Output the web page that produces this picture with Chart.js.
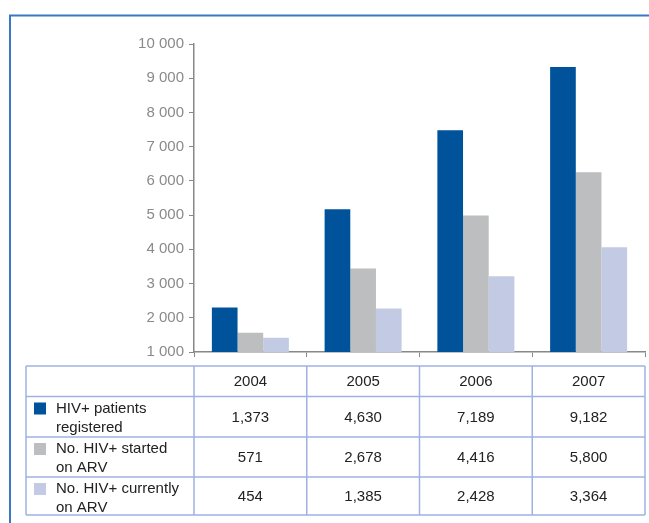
<!DOCTYPE html>
<html>
<head>
<meta charset="utf-8">
<script src="https://cdn.jsdelivr.net/npm/chart.js@4/dist/chart.umd.min.js"></script>
<style>
  html, body { margin: 0; padding: 0; background: #ffffff; }
  #wrap { position: relative; width: 649px; height: 523px; }
</style>
</head>
<body>
<div id="wrap"><canvas id="c" width="649" height="523"></canvas></div>
<script>
// ---- data ----
const years = ['2004', '2005', '2006', '2007'];
// bar heights as drawn in the picture (axis units)
const registeredBars = [2300, 5170, 7480, 9330];
const startedBars = [1565, 3440, 4990, 6250];
const currentBars = [1420, 2270, 3210, 4060];
// values printed in the data table
const registeredTable = ['1,373', '4,630', '7,189', '9,182'];
const startedTable = ['571', '2,678', '4,416', '5,800'];
const currentTable = ['454', '1,385', '2,428', '3,364'];
const seriesNames = [
  ['HIV+ patients', 'registered'],
  ['No. HIV+ started', 'on ARV'],
  ['No. HIV+ currently', 'on ARV']
];
const yMin = 1000, yMax = 10000, yStep = 1000;

const colors = ['#00529b', '#bdbec0', '#c3cae3'];
const FONT = '"Liberation Sans", Arial, sans-serif';

function fmt(v) {
  return String(v).replace(/\B(?=(\d{3})+(?!\d))/g, ' ');
}

const tablePlugin = {
  id: 'tablePlugin',
  afterDraw(chart) {
    const ctx = chart.ctx;
    const xs = chart.scales.x;
    // frame
    ctx.save();
    ctx.strokeStyle = '#3b78c1';
    ctx.lineWidth = 2;
    ctx.beginPath();
    ctx.moveTo(10, 523);
    ctx.lineTo(10, 15.5);
    ctx.lineTo(649, 15.5);
    ctx.stroke();

    // table geometry
    const rows = [366, 396.5, 437, 477, 515];
    const left = 26;
    const right = xs.right;
    const half = (xs.getPixelForValue(1) - xs.getPixelForValue(0)) / 2;
    const cols = [left, xs.left];
    for (let i = 0; i < years.length; i++) cols.push(xs.getPixelForValue(i) + half);
    cols[cols.length - 1] = right;

    ctx.strokeStyle = '#9fb2e2';
    ctx.lineWidth = 1.5;
    ctx.beginPath();
    rows.forEach(y => { ctx.moveTo(left, y); ctx.lineTo(right, y); });
    cols.forEach(x => { ctx.moveTo(x, rows[0]); ctx.lineTo(x, rows[rows.length - 1]); });
    ctx.stroke();

    ctx.fillStyle = '#222222';
    ctx.font = '15px ' + FONT;
    ctx.textAlign = 'center';
    ctx.textBaseline = 'middle';
    years.forEach((yr, i) => {
      ctx.fillText(yr, xs.getPixelForValue(i), (rows[0] + rows[1]) / 2 + 1);
    });
    const tables = [registeredTable, startedTable, currentTable];
    tables.forEach((vals, r) => {
      const yc = (rows[r + 1] + rows[r + 2]) / 2 + 1;
      vals.forEach((v, i) => ctx.fillText(v, xs.getPixelForValue(i), yc));
    });
    // row labels with legend squares
    ctx.textAlign = 'left';
    seriesNames.forEach((lines, r) => {
      const top = rows[r + 1];
      ctx.fillStyle = colors[r];
      ctx.fillRect(34, top + 6, 12, 12);
      ctx.fillStyle = '#222222';
      ctx.fillText(lines[0], 56, top + 12);
      ctx.fillText(lines[1], 56, top + 31);
    });
    ctx.restore();
  }
};

new Chart(document.getElementById('c'), {
  type: 'bar',
  data: {
    labels: years,
    datasets: [
      { label: seriesNames[0].join(' '), data: registeredBars, backgroundColor: colors[0] },
      { label: seriesNames[1].join(' '), data: startedBars, backgroundColor: colors[1] },
      { label: seriesNames[2].join(' '), data: currentBars, backgroundColor: colors[2] }
    ]
  },
  options: {
    responsive: false,
    animation: false,
    devicePixelRatio: 1,
    categoryPercentage: 0.683,
    barPercentage: 1.0,
    layout: { padding: { top: 44, left: 139, right: 4, bottom: 0 } },
    plugins: { legend: { display: false }, tooltip: { enabled: false } },
    scales: {
      x: {
        offset: true,
        grid: { display: true, offset: true, drawOnChartArea: false, tickLength: 5, color: '#888888', lineWidth: 1 },
        border: { display: true, color: '#888888', width: 1.5 },
        ticks: { display: false },
        afterFit(scale) { scale.height = 171; }
      },
      y: {
        min: yMin,
        max: yMax,
        grid: { display: true, drawOnChartArea: false, tickLength: 5, color: '#888888', lineWidth: 1 },
        border: { display: true, color: '#888888', width: 1.5 },
        ticks: {
          stepSize: yStep,
          color: '#8a8a8a',
          padding: 5,
          font: { family: FONT, size: 15 },
          callback: v => fmt(v)
        },
        afterFit(scale) { scale.width = 55; }
      }
    }
  },
  plugins: [tablePlugin]
});
</script>
</body>
</html>
